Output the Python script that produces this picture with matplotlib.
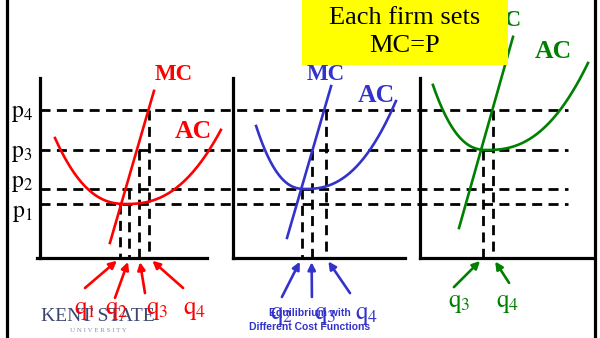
import numpy as np
import matplotlib.pyplot as plt
from matplotlib.patches import Rectangle

plt.rcParams["font.family"] = ["Liberation Serif", "DejaVu Serif"]
plt.rcParams["mathtext.fontset"] = "stix"

# price levels shared by all three firms
PRICE_NAMES = ["1", "2", "3", "4"]
PRICES = [1.8, 2.3, 3.6, 4.93]

# one panel per firm: marginal cost line and U-shaped average cost
FIRM_COLORS = ["#ff0000", "#3333cc", "#008000"]
MC_Q = [[2.33, 3.80], [1.80, 3.27], [1.30, 3.10]]
MC_P = [[0.50, 5.57], [0.67, 5.73], [1.00, 7.37]]
AC_LEFT = [(0.50, 4.00), (0.77, 4.40), (0.43, 5.77)]
AC_MIN = [(2.87, 1.80), (2.40, 2.30), (2.23, 3.60)]
AC_RIGHT = [(6.03, 4.27), (5.43, 5.23), (5.60, 6.50)]

# quantity supplied by each firm at each price it is active at
SUPPLY_PRICE_IDX = [[0, 1, 2, 3], [1, 2, 3], [2, 3]]
SUPPLY_Q = [[2.67, 2.98, 3.31, 3.64], [2.29, 2.62, 3.10], [2.10, 2.43]]

# layout, in canvas units (30 px per unit, origin on the common x-axis)
PANEL_X0 = [1.333, 7.767, 14.0]
PANEL_W = [5.57, 5.73, 5.73]
PANEL_H = 6.0
ARROW_TAILS = [
    [(1.50, -1.00), (2.50, -1.33), (3.50, -1.17), (4.77, -1.00)],
    [(1.63, -1.30), (2.63, -1.30), (3.90, -1.17)],
    [(1.13, -0.97), (2.97, -0.83)],
]
Q_LABEL_POS = [
    [(1.50, -1.76), (2.57, -1.76), (3.90, -1.76), (5.17, -1.76)],
    [(1.63, -1.93), (3.07, -1.93), (4.47, -1.93)],
    [(1.30, -1.53), (2.93, -1.53)],
]
P_LABEL_Y = [1.50, 2.48, 3.48, 4.83]
CURVE_LABELS = [
    ((5.80, 6.10), (6.43, 4.23)),
    ((10.87, 6.12), (12.53, 5.43)),
    ((16.75, 7.93), (18.43, 6.87)),
]


def ac_curve(left, bottom, right, power=2.4, n=200):
    (ql, pl), (qm, pm), (qr, pr) = left, bottom, right
    kl = (pl - pm) / abs(ql - qm) ** power
    kr = (pr - pm) / abs(qr - qm) ** power
    q = np.linspace(ql, qr, n)
    k = np.where(q < qm, kl, kr)
    return q, pm + k * np.abs(q - qm) ** power


fig = plt.figure(figsize=(6.0, 3.38), dpi=100)
ax = fig.add_axes([0, 0, 1, 1])
ax.set_xlim(0, 20)
ax.set_ylim(-80 / 30, 258 / 30)
ax.axis("off")

dash = (0, (3.6, 2.3))
AX_LW = 2.3
DASH_LW = 2.0
CURVE_LW = 1.9

# outer frame
ax.plot([0.233, 0.233], [-3, 9], color="black", lw=AX_LW)
ax.plot([19.83, 19.83], [-3, 9], color="black", lw=AX_LW)

# price levels run across all panels
for p, name, ly in zip(PRICES, PRICE_NAMES, P_LABEL_Y):
    ax.plot([PANEL_X0[0], 18.93], [p, p], color="black", lw=DASH_LW, ls=dash, zorder=2)
    ax.text(0.73, ly, r"$\mathrm{p}_{%s}$" % name, fontsize=17, ha="center", va="center")

for i, color in enumerate(FIRM_COLORS):
    x0 = PANEL_X0[i]
    # axes
    ax.plot([x0, x0], [0, PANEL_H], color="black", lw=AX_LW, zorder=3)
    ax.plot([x0 - 0.1 if i == 0 else x0, x0 + PANEL_W[i]], [0, 0], color="black", lw=AX_LW, zorder=3)

    # supply points dropped to the quantity axis
    for j, q in zip(SUPPLY_PRICE_IDX[i], SUPPLY_Q[i]):
        ax.plot([x0 + q, x0 + q], [PRICES[j], 0], color="black", lw=DASH_LW, ls=dash, zorder=2)

    # cost curves
    ax.plot(x0 + np.array(MC_Q[i]), MC_P[i], color=color, lw=CURVE_LW, zorder=4)
    q, p = ac_curve(AC_LEFT[i], AC_MIN[i], AC_RIGHT[i])
    ax.plot(x0 + q, p, color=color, lw=CURVE_LW, zorder=4)

    (mx, my), (acx, acy) = CURVE_LABELS[i]
    ax.text(mx, my, "MC", color=color, fontsize=16.5, fontweight="bold",
            ha="center", va="center", zorder=5)
    ax.text(acx, acy, "AC", color=color, fontsize=18.5, fontweight="bold",
            ha="center", va="center", zorder=5)

    # arrows and quantity labels
    for j, q, tail, lab in zip(SUPPLY_PRICE_IDX[i], SUPPLY_Q[i], ARROW_TAILS[i], Q_LABEL_POS[i]):
        ax.annotate("", xy=(x0 + q, 0), xytext=(x0 + tail[0], tail[1]),
                    arrowprops=dict(arrowstyle="-|>", color=color, lw=1.9,
                                    mutation_scale=11, shrinkA=0, shrinkB=3),
                    zorder=6)
        ax.text(x0 + lab[0], lab[1], r"$\mathrm{q}_{%s}$" % PRICE_NAMES[j], color=color,
                fontsize=18, ha="center", va="center", zorder=7)

# caption box
ax.add_patch(Rectangle((302 / 30, 193 / 30), 206 / 30, 3.0, facecolor="#ffff00",
                       edgecolor="none", zorder=8))
ax.text(13.5, 8.0, "Each firm sets", fontsize=19, ha="center", va="center", zorder=9)
ax.text(13.5, 7.08, "MC=P", fontsize=19, ha="center", va="center", zorder=9)

# footer
ax.text(3.27, -1.95, "KENT STATE", fontsize=14, color="#3a4670", ha="center",
        va="center", zorder=5)
ax.text(3.27, -2.42, "U N I V E R S I T Y", fontsize=5, color="#8a92aa",
        ha="center", va="center", zorder=5)
ax.text(10.33, -1.83, "Equilibrium with", fontsize=7.5, fontweight="bold",
        family=["Liberation Sans", "DejaVu Sans"], color="#3333cc",
        ha="center", va="center", zorder=8)
ax.text(10.33, -2.30, "Different Cost Functions", fontsize=7.5, fontweight="bold",
        family=["Liberation Sans", "DejaVu Sans"], color="#3333cc",
        ha="center", va="center", zorder=8)

fig.savefig("out.png", dpi=100)
